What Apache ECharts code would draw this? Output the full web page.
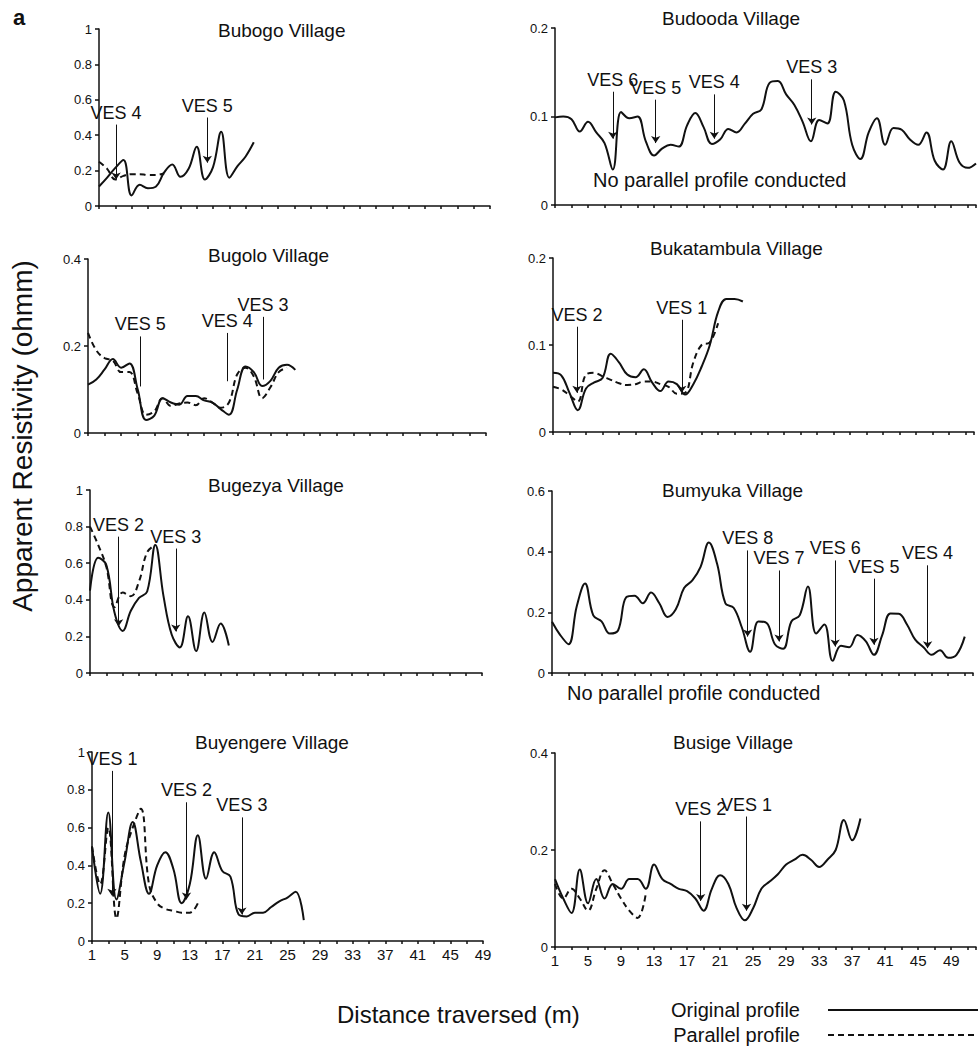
<!DOCTYPE html>
<html>
<head>
    <meta charset="utf-8">
    <title>Apparent resistivity profiles</title>
    <script src="https://cdn.jsdelivr.net/npm/echarts@6.0.0/dist/echarts.min.js"></script>
    <style>
        html, body { margin: 0; padding: 0; background: #fff; }
        #main { width: 979px; height: 1047px; }
    </style>
</head>
<body>
    <div id="main"></div>

    <script type="text/javascript">
        // readings at every metre, first value is x = 1
        var bubogoOrig = [0.11, 0.16, 0.215, 0.26, 0.06, 0.12, 0.10, 0.11, 0.19, 0.235, 0.165, 0.21, 0.335, 0.15, 0.22, 0.42, 0.16, 0.225, 0.28, 0.36];
        var bubogoPar = [0.25, 0.21, 0.15, 0.17, 0.18, 0.18, 0.175, 0.175, 0.185];

        var budoodaOrig = [0.099, 0.100, 0.097, 0.083, 0.094, 0.082, 0.070, 0.040, 0.105, 0.098,
            0.100, 0.072, 0.056, 0.064, 0.068, 0.066, 0.090, 0.104, 0.088, 0.069,
            0.074, 0.086, 0.082, 0.092, 0.103, 0.108, 0.138, 0.140, 0.125, 0.113,
            0.094, 0.072, 0.096, 0.092, 0.128, 0.118, 0.068, 0.052, 0.082, 0.098,
            0.068, 0.087, 0.085, 0.074, 0.068, 0.082, 0.050, 0.040, 0.072, 0.048,
            0.042, 0.047];

        var bugoloOrig = [0.111, 0.123, 0.146, 0.17, 0.15, 0.16, 0.10, 0.03, 0.04, 0.08, 0.07, 0.065, 0.085, 0.085, 0.075, 0.07, 0.055, 0.042, 0.10, 0.153, 0.14, 0.108, 0.12, 0.15, 0.157, 0.145];
        var bugoloPar = [0.23, 0.19, 0.172, 0.166, 0.14, 0.14, 0.09, 0.042, 0.05, 0.08, 0.062, 0.068, 0.07, 0.064, 0.08, 0.07, 0.058, 0.07, 0.135, 0.15, 0.13, 0.08, 0.105, 0.14, 0.15];

        var bukatambulaOrig = [0.068, 0.065, 0.045, 0.025, 0.05, 0.057, 0.062, 0.09, 0.08, 0.066, 0.063, 0.072, 0.057, 0.047, 0.058, 0.055, 0.043, 0.055, 0.075, 0.1, 0.138, 0.153, 0.153, 0.15];
        var bukatambulaPar = [0.052, 0.049, 0.042, 0.035, 0.066, 0.068, 0.064, 0.06, 0.056, 0.054, 0.055, 0.058, 0.058, 0.055, 0.052, 0.044, 0.045, 0.08, 0.1, 0.103, 0.125];

        var bugezyaOrig = [0.45, 0.63, 0.59, 0.33, 0.23, 0.34, 0.41, 0.445, 0.70, 0.42, 0.21, 0.14, 0.31, 0.12, 0.33, 0.17, 0.27, 0.15];
        var bugezyaPar = [0.8, 0.7, 0.58, 0.36, 0.44, 0.42, 0.5, 0.66, 0.70];

        var bumyukaOrig = [0.169, 0.125, 0.095, 0.22, 0.295, 0.19, 0.17, 0.13, 0.14, 0.25,
            0.255, 0.23, 0.265, 0.23, 0.185, 0.21, 0.28, 0.305, 0.35, 0.43,
            0.36, 0.23, 0.215, 0.15, 0.07, 0.17, 0.165, 0.095, 0.08, 0.17,
            0.19, 0.285, 0.13, 0.16, 0.04, 0.09, 0.085, 0.125, 0.105, 0.06,
            0.125, 0.196, 0.195, 0.16, 0.11, 0.085, 0.06, 0.075, 0.05, 0.06,
            0.12];

        var buyengereOrig = [0.5, 0.25, 0.68, 0.22, 0.42, 0.63, 0.42, 0.25, 0.4, 0.47, 0.38, 0.2, 0.3, 0.56, 0.33, 0.47, 0.37, 0.34, 0.14, 0.13, 0.15, 0.15, 0.18, 0.21, 0.23, 0.26, 0.11];
        var buyengerePar = [0.5, 0.3, 0.6, 0.12, 0.45, 0.6, 0.7, 0.3, 0.2, 0.17, 0.16, 0.15, 0.15, 0.2];

        var busigeOrig = [0.14, 0.1, 0.07, 0.16, 0.09, 0.14, 0.1, 0.13, 0.12, 0.14,
            0.14, 0.12, 0.17, 0.14, 0.13, 0.12, 0.115, 0.1, 0.075, 0.12,
            0.148, 0.13, 0.08, 0.055, 0.08, 0.12, 0.135, 0.15, 0.17, 0.18,
            0.19, 0.18, 0.165, 0.18, 0.2, 0.262, 0.22, 0.265];
        var busigePar = [0.13, 0.1, 0.12, 0.1, 0.075, 0.12, 0.158, 0.13, 0.1, 0.075, 0.06, 0.11];

        // VES points: [label, x, top of the pointer, tip of the pointer]
        var bubogoVes = [['VES 4', 3.1, 0.46, 0.15], ['VES 5', 14.3, 0.5, 0.245]];
        var budoodaVes = [['VES 6', 8.0, 0.128, 0.075], ['VES 5', 13.2, 0.119, 0.070], ['VES 4', 20.3, 0.125, 0.075], ['VES 3', 32.1, 0.142, 0.091]];
        var bugoloVes = [['VES 5', 7.3, 0.222, 0.107], ['VES 4', 17.8, 0.23, 0.119], ['VES 3', 22.1, 0.267, 0.123]];
        var bukatambulaVes = [['VES 2', 3.9, 0.121, 0.045], ['VES 1', 16.6, 0.129, 0.045]];
        var bugezyaVes = [['VES 2', 4.5, 0.745, 0.255], ['VES 3', 11.5, 0.68, 0.227]];
        var bumyukaVes = [['VES 8', 24.7, 0.404, 0.12], ['VES 7', 28.5, 0.338, 0.104], ['VES 6', 35.3, 0.371, 0.087], ['VES 5', 40.0, 0.311, 0.093], ['VES 4', 46.5, 0.355, 0.082]];
        var buyengereVes = [['VES 1', 3.45, 0.9, 0.24], ['VES 2', 12.6, 0.734, 0.22], ['VES 3', 19.4, 0.654, 0.14]];
        var busigeVes = [['VES 2', 18.65, 0.259, 0.095], ['VES 1', 24.2, 0.269, 0.075]];

        // x tick labels shown under the bottom row
        var xLabels = [1, 5, 9, 13, 17, 21, 25, 29, 33, 37, 41, 45, 49];

        var fontName = '"Liberation Sans", Arial, sans-serif';
        var ink = '#111';

        // one entry per panel, box = [left, top, width, height]
        var panels = [
            {name: 'Bubogo Village', orig: bubogoOrig, par: bubogoPar, ves: bubogoVes, yMax: 1, yStep: 0.2, xMax: 49, box: [99, 29, 391, 177], tx: 218, ty: 21, arrow: true},
            {name: 'Budooda Village', orig: budoodaOrig, par: null, ves: budoodaVes, yMax: 0.2, yStep: 0.1, xMax: 52, box: [555, 28, 421, 177], tx: 662, ty: 9, arrow: true},
            {name: 'Bugolo Village', orig: bugoloOrig, par: bugoloPar, ves: bugoloVes, yMax: 0.4, yStep: 0.2, xMax: 49, box: [88, 259, 398, 174], tx: 208, ty: 246, arrow: false},
            {name: 'Bukatambula Village', orig: bukatambulaOrig, par: bukatambulaPar, ves: bukatambulaVes, yMax: 0.2, yStep: 0.1, xMax: 52, box: [553, 258, 421, 174], tx: 650, ty: 239, arrow: true},
            {name: 'Bugezya Village', orig: bugezyaOrig, par: bugezyaPar, ves: bugezyaVes, yMax: 1, yStep: 0.2, xMax: 49, box: [90, 490, 392, 183], tx: 208, ty: 476, arrow: true},
            {name: 'Bumyuka Village', orig: bumyukaOrig, par: null, ves: bumyukaVes, yMax: 0.6, yStep: 0.2, xMax: 52, box: [552, 491, 421, 182], tx: 662, ty: 481, arrow: true},
            {name: 'Buyengere Village', orig: buyengereOrig, par: buyengerePar, ves: buyengereVes, yMax: 1, yStep: 0.2, xMax: 49, box: [92, 752, 391, 189], tx: 195, ty: 733, arrow: true, bottom: true},
            {name: 'Busige Village', orig: busigeOrig, par: busigePar, ves: busigeVes, yMax: 0.4, yStep: 0.2, xMax: 52, box: [555, 753, 421, 194], tx: 673, ty: 733, arrow: true, bottom: true}
        ];

        function pairs(arr) {
            return arr.map(function (v, i) { return [i + 1, v]; });
        }

        function vesLines(ves, arrow) {
            return {
                silent: true,
                animation: false,
                symbol: ['none', arrow ? 'arrow' : 'none'],
                symbolSize: 7,
                lineStyle: {color: ink, width: 1, type: 'solid'},
                label: {show: true, position: 'start', formatter: '{b}', fontSize: 18, color: ink, distance: 3, fontFamily: fontName},
                emphasis: {disabled: true},
                data: ves.map(function (v) {
                    return [{name: v[0], coord: [v[1], v[2]]}, {coord: [v[1], v[3]]}];
                })
            };
        }

        var grids = [], xAxes = [], yAxes = [], series = [];
        var titles = [
            {text: 'a', left: 13, top: 6, padding: 0, textStyle: {fontSize: 22, fontWeight: 'bold', color: ink, fontFamily: fontName}},
            {text: 'No parallel profile conducted', left: 593, top: 170, padding: 0, textStyle: {fontSize: 20, fontWeight: 'normal', color: ink, fontFamily: fontName}},
            {text: 'No parallel profile conducted', left: 567, top: 683, padding: 0, textStyle: {fontSize: 20, fontWeight: 'normal', color: ink, fontFamily: fontName}},
            {text: 'Distance traversed (m)', left: 337, top: 1002, padding: 0, textStyle: {fontSize: 24, fontWeight: 'normal', color: ink, fontFamily: fontName}}
        ];

        panels.forEach(function (p, i) {
            grids.push({left: p.box[0], top: p.box[1], width: p.box[2], height: p.box[3], containLabel: false});
            titles.push({text: p.name, left: p.tx, top: p.ty, padding: 0, textStyle: {fontSize: 19, fontWeight: 'normal', color: ink, fontFamily: fontName}});

            xAxes.push({
                type: 'value', gridIndex: i, min: 1, max: p.xMax, interval: 2,
                axisLine: {lineStyle: {color: ink, width: 1.5}},
                axisTick: {show: true, length: 3, lineStyle: {color: ink, width: 1.5}},
                splitLine: {show: false},
                axisLabel: {
                    show: !!p.bottom, color: ink, fontSize: 15, margin: 6, fontFamily: fontName,
                    showMinLabel: true, showMaxLabel: true,
                    formatter: function (v) { return xLabels.indexOf(v) >= 0 ? String(v) : ''; }
                }
            });
            yAxes.push({
                type: 'value', gridIndex: i, min: 0, max: p.yMax, interval: p.yStep,
                axisLine: {show: true, lineStyle: {color: ink, width: 1.5}},
                axisTick: {show: true, length: 4, lineStyle: {color: ink, width: 1.5}},
                splitLine: {show: false},
                axisLabel: {color: ink, fontSize: 13, margin: 7, fontFamily: fontName}
            });

            if (p.par) {
                series.push({
                    name: 'Parallel profile', type: 'line', xAxisIndex: i, yAxisIndex: i,
                    data: pairs(p.par), smooth: 0.4, symbol: 'none', z: 2,
                    itemStyle: {color: ink},
                    lineStyle: {color: ink, width: 2, type: [6, 4]}
                });
            }
            series.push({
                name: 'Original profile', type: 'line', xAxisIndex: i, yAxisIndex: i,
                data: pairs(p.orig), smooth: 0.4, symbol: 'none', z: 3,
                itemStyle: {color: ink},
                lineStyle: {color: ink, width: 2, type: 'solid'},
                markLine: vesLines(p.ves, p.arrow)
            });
        });

        var myChart = echarts.init(document.getElementById('main'), null, {renderer: 'svg'});
        var option = {
            animation: false,
            backgroundColor: '#fff',
            title: titles,
            grid: grids,
            xAxis: xAxes,
            yAxis: yAxes,
            legend: {
                data: ['Original profile', 'Parallel profile'],
                orient: 'vertical', right: 0, top: 1000, padding: 0,
                align: 'right', itemWidth: 150, itemHeight: 12, itemGap: 5,
                selectedMode: false,
                itemStyle: {opacity: 0},
                textStyle: {fontSize: 20, color: ink, fontFamily: fontName, padding: [0, 23, 0, 0]}
            },
            graphic: [{
                type: 'text', x: 22, y: 436, rotation: Math.PI / 2,
                style: {
                    text: 'Apparent Resistivity (ohmm)', fill: ink,
                    font: '28px "Liberation Sans", Arial, sans-serif',
                    textAlign: 'center', textVerticalAlign: 'middle',
                    align: 'center', verticalAlign: 'middle'
                }
            }],
            series: series
        };
        myChart.setOption(option);
    </script>
</body>
</html>
